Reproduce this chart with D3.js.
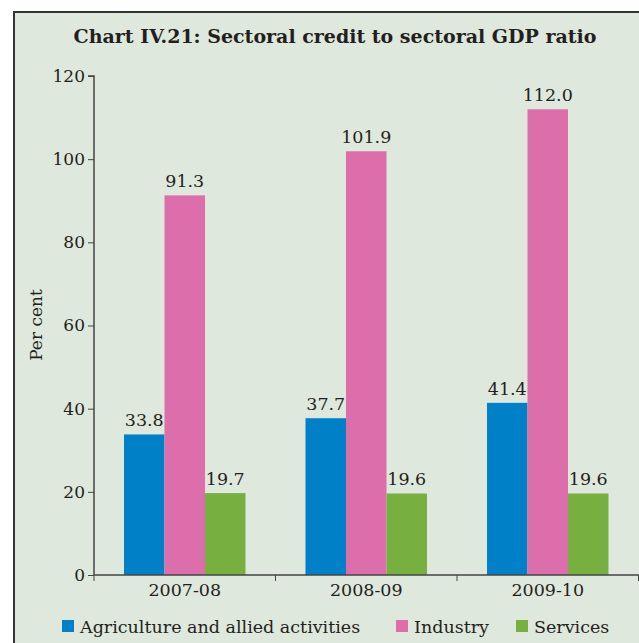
<!DOCTYPE html>
<html>
<head>
<meta charset="utf-8">
<script src="https://cdn.jsdelivr.net/npm/d3@7"></script>
<style>
  html, body { margin: 0; padding: 0; background: #ffffff; }
  svg { display: block; }
  text { font-family: "DejaVu Serif", "Liberation Serif", serif; fill: #231f20; }
</style>
</head>
<body>
<svg id="chart" width="639" height="643"></svg>
<script>
// Sectoral credit as a share of sectoral GDP, per cent
const years = ["2007-08", "2008-09", "2009-10"];
const sectors = ["Agriculture and allied activities", "Industry", "Services"];
const agriculture = [33.8, 37.7, 41.4];
const industry = [91.3, 101.9, 112.0];
const services = [19.7, 19.6, 19.6];
const yTicks = [0, 20, 40, 60, 80, 100, 120];
const colors = ["#0080c6", "#dc6fab", "#77b041"];

const seriesValues = [agriculture, industry, services];

const svg = d3.select("#chart");
const W = 639, H = 643;

// panel background and frame
svg.append("rect").attr("x", 14).attr("y", 12).attr("width", W).attr("height", H)
  .attr("fill", "#dfe8dc").attr("stroke", "#333").attr("stroke-width", 2);

svg.append("text").attr("x", 335).attr("y", 43).attr("text-anchor", "middle")
  .style("font-size", "19px").style("font-weight", "bold")
  .text("Chart IV.21: Sectoral credit to sectoral GDP ratio");

const plotLeft = 94, plotRight = 638.5, plotTop = 76, plotBottom = 575;

const x0 = d3.scaleBand().domain(years).range([plotLeft, plotRight]).paddingInner(0).paddingOuter(0);
const x1 = d3.scaleBand().domain(sectors).range([30, x0.bandwidth() - 30]).padding(0);
const y = d3.scaleLinear().domain([0, 120]).range([plotBottom, plotTop]);

// bars
const groups = svg.append("g").selectAll("g").data(years).join("g")
  .attr("transform", d => `translate(${x0(d)},0)`);

groups.each(function(yr, i) {
  const g = d3.select(this);
  sectors.forEach((s, k) => {
    const v = seriesValues[k][i];
    g.append("rect").attr("x", x1(s)).attr("width", x1.bandwidth())
      .attr("y", y(v)).attr("height", y(0) - y(v)).attr("fill", colors[k]);
    g.append("text").attr("x", x1(s) + x1.bandwidth() / 2).attr("y", y(v) - 8)
      .attr("text-anchor", "middle").style("font-size", "17.5px")
      .text(v.toFixed(1));
  });
});

// y axis
const yAxis = d3.axisLeft(y).tickValues(yTicks).tickSize(6).tickPadding(3).tickFormat(d3.format("d"));
const gy = svg.append("g").attr("transform", `translate(${plotLeft},0)`).call(yAxis);
gy.select(".domain").attr("stroke", "#444").attr("stroke-width", 1.5).attr("d", `M-6,${plotTop}H0V${plotBottom}`);
gy.selectAll(".tick line").attr("stroke", "#444");
gy.selectAll(".tick text").style("font-size", "17px").style("font-family", "DejaVu Serif, serif").attr("fill", "#231f20");

// x axis with ticks at band boundaries
const gx = svg.append("g").attr("transform", `translate(0,${plotBottom})`);
gx.append("line").attr("x1", plotLeft).attr("x2", W).attr("y1", 0).attr("y2", 0)
  .attr("stroke", "#444").attr("stroke-width", 1.5);
const bounds = years.map(d => x0(d)).concat([x0(years[years.length - 1]) + x0.bandwidth()]);
gx.selectAll("line.tk").data(bounds).join("line").attr("class", "tk")
  .attr("x1", d => d).attr("x2", d => d).attr("y1", 0).attr("y2", 6).attr("stroke", "#444");
gx.selectAll("text").data(years).join("text")
  .attr("x", d => x0(d) + x0.bandwidth() / 2).attr("y", 21)
  .attr("text-anchor", "middle").style("font-size", "17.5px").text(d => d);

// y axis title
svg.append("text").attr("transform", "translate(42,325) rotate(-90)")
  .attr("text-anchor", "middle").style("font-size", "17px").text("Per cent");

// legend
const legendX = [62, 396, 516];
sectors.forEach((s, k) => {
  svg.append("rect").attr("x", legendX[k]).attr("y", 620).attr("width", 12).attr("height", 12)
    .attr("fill", colors[k]);
  svg.append("text").attr("x", legendX[k] + 18).attr("y", 633)
    .style("font-size", "17.5px").text(s);
});
</script>
</body>
</html>
